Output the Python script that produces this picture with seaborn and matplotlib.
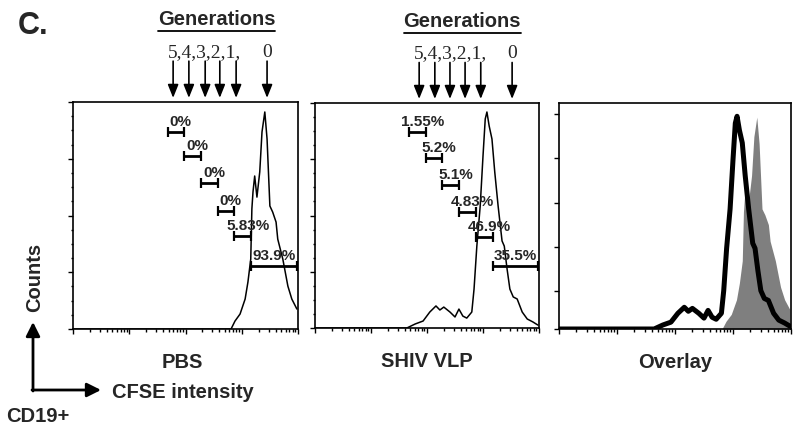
"""
CFSE dilution of CD19+ cells: PBS vs SHIV VLP, plus an overlay panel.
Histograms drawn with seaborn on a log CFSE axis.
"""

import numpy as np
import seaborn as sns
from matplotlib import pyplot as plt
from matplotlib.ticker import AutoMinorLocator, FixedLocator
from matplotlib.transforms import blended_transform_factory

sns.set_style("ticks")
plt.rcParams["font.family"] = ["Liberation Sans", "DejaVu Sans"]
plt.rcParams["font.weight"] = "bold"

# histogram traces, x in log10 CFSE units, y in % of max count
pbs_log = [1.0, 3.81, 3.88, 3.97, 4.06, 4.11, 4.16, 4.18, 4.20, 4.23, 4.27, 4.32,
           4.36, 4.41, 4.45, 4.50, 4.55, 4.61, 4.64, 4.73, 4.82, 4.89, 4.98]
pbs_counts = [0, 0, 3.5, 6.6, 13.2, 20.7, 30.8, 52.9, 60.4, 67.4, 58.1, 69.2,
              86.8, 95.6, 83.7, 54.2, 51.5, 47.1, 39.6, 30.8, 18.9, 13.2, 8.8]

vlp_log = [1.0, 2.64, 2.79, 2.93, 3.05, 3.16, 3.23, 3.30, 3.41, 3.50, 3.57, 3.64,
           3.71, 3.80, 3.84, 3.89, 3.95, 4.00, 4.04, 4.07, 4.11, 4.16, 4.21, 4.27,
           4.34, 4.38, 4.43, 4.48, 4.54, 4.61, 4.70, 4.79, 4.89, 4.98]
vlp_counts = [0, 0, 1.8, 3.1, 7.1, 9.8, 8.0, 9.3, 7.1, 4.9, 8.4, 5.3,
              4.4, 7.1, 17.3, 36.4, 54.2, 76.4, 92.9, 96.0, 89.8, 84.0, 69.3, 54.2,
              38.7, 36.4, 26.2, 17.3, 13.8, 12.9, 7.1, 4.0, 2.7, 1.3]

# generation gates (edges in log10 units) and their percentages
gate_edges = [2.68, 2.98, 3.27, 3.57, 3.87, 4.17, 4.99]
pbs_gate_y = [86.8, 76.2, 64.3, 52.0, 41.0, 27.8]
vlp_gate_y = [87.1, 75.6, 63.6, 51.6, 40.4, 27.6]
pbs_pct = ["0%", "0%", "0%", "0%", "5.83%", "93.9%"]
vlp_pct = ["1.55%", "5.2%", "5.1%", "4.83%", "46.9%", "35.5%"]

# generation arrows (log10 positions) above each panel
pbs_gens = [2.78, 3.06, 3.35, 3.61, 3.90, 4.45]
vlp_gens = [2.86, 3.14, 3.41, 3.68, 3.96, 4.52]

panel_titles = ["PBS", "SHIV VLP", "Overlay"]

fig = plt.figure(figsize=(8, 4.27), dpi=100)

# overlay in pixel coords for the loose labels
ov = fig.add_axes([0, 0, 1, 1])
ov.set_xlim(0, 800)
ov.set_ylim(427, 0)
ov.axis("off")

ax1 = fig.add_axes([73 / 800, 97 / 427, 225 / 800, 227 / 427])
ax2 = fig.add_axes([315 / 800, 98 / 427, 224 / 800, 225 / 427])
ax3 = fig.add_axes([559 / 800, 97 / 427, 232 / 800, 226 / 427])


def style_axis(ax, ymax):
    ax.set_xscale("log")
    ax.set_xlim(10, 1e5)
    ax.set_ylim(0, ymax)
    for s in ax.spines.values():
        s.set_visible(True)
        s.set_linewidth(1.2)
        s.set_color("black")
    ax.tick_params(which="both", direction="out", labelbottom=False, labelleft=False,
                   colors="black", width=1)
    ax.tick_params(which="major", length=3.5)
    ax.tick_params(which="minor", length=1.8)
    ax.set_xlabel("")
    ax.set_ylabel("")


def draw_gates(ax, ys, labels):
    for i, (y, lab) in enumerate(zip(ys, labels)):
        x0, x1 = 10 ** gate_edges[i], 10 ** gate_edges[i + 1]
        ax.plot([x0, x1], [y, y], color="black", lw=2, marker="|", markersize=6.5,
                mew=1.6, solid_capstyle="butt")
        xm = 10 ** ((gate_edges[i] + gate_edges[i + 1]) / 2)
        dx = 0 if i == len(ys) - 1 else 3.5
        ax.annotate(lab, xy=(xm, y), xytext=(dx, 4.8), textcoords="offset points",
                    ha="center", va="baseline", fontsize=11, fontweight="bold",
                    annotation_clip=False)


def draw_header(ax, gens):
    tr = blended_transform_factory(ax.transData, ax.transAxes)
    for g in gens:
        ax.annotate("", xy=(10 ** g, 1.018), xytext=(10 ** g, 1.18), xycoords=tr,
                    textcoords=tr, annotation_clip=False,
                    arrowprops=dict(arrowstyle="-|>,head_length=0.8,head_width=0.32",
                                    mutation_scale=10, lw=1.2, color="black",
                                    shrinkA=0, shrinkB=0))
    ax.annotate("5,4,3,2,1,", xy=(10 ** gens[0], 1.203), xycoords=tr,
                xytext=(-3.6, 0), textcoords="offset points", ha="left", va="baseline",
                fontsize=14, fontweight="normal",
                family=["Liberation Serif", "DejaVu Serif"], annotation_clip=False)
    ax.text(10 ** gens[-1], 1.203, "0", transform=tr, ha="center", va="baseline",
            fontsize=14, fontweight="normal", family=["Liberation Serif", "DejaVu Serif"])
    mid = (gens[0] + gens[-1]) / 2 - 0.06
    ax.text(10 ** mid, 1.344, "Generations", transform=tr, ha="center", va="baseline",
            fontsize=14.5, fontweight="bold")
    ax.plot([10 ** (mid - 1.04), 10 ** (mid + 1.04)], [1.313, 1.313], transform=tr,
            color="black", lw=1.3, clip_on=False)


# PBS panel
sns.lineplot(x=10 ** np.array(pbs_log), y=pbs_counts, ax=ax1, color="black", lw=1.1,
             estimator=None, sort=False)
style_axis(ax1, 100)
ax1.yaxis.set_major_locator(FixedLocator([0, 25, 50, 75, 100]))
ax1.yaxis.set_minor_locator(AutoMinorLocator(4))
draw_gates(ax1, pbs_gate_y, pbs_pct)
draw_header(ax1, pbs_gens)

# SHIV VLP panel
sns.lineplot(x=10 ** np.array(vlp_log), y=vlp_counts, ax=ax2, color="black", lw=1.1,
             estimator=None, sort=False)
style_axis(ax2, 100)
ax2.yaxis.set_major_locator(FixedLocator([0, 25, 50, 75, 100]))
ax2.yaxis.set_minor_locator(AutoMinorLocator(4))
draw_gates(ax2, vlp_gate_y, vlp_pct)
draw_header(ax2, vlp_gens)

# overlay panel: PBS filled grey, VLP thick black
ax3.fill_between(10 ** np.array(pbs_log), pbs_counts, color="#7f7f7f", lw=0, zorder=1)
sns.lineplot(x=10 ** np.array(vlp_log), y=vlp_counts, ax=ax3, color="black", lw=3.6,
             estimator=None, sort=False, zorder=2)
style_axis(ax3, 102)
ax3.yaxis.set_major_locator(FixedLocator([0, 17, 37, 57, 77, 97]))
ax3.yaxis.set_minor_locator(FixedLocator([]))

for ax, title in zip([ax1, ax2, ax3], panel_titles):
    ax.text(0.5 if title != "PBS" else 0.485, -0.167, title, transform=ax.transAxes,
            ha="center", va="baseline", fontsize=14.5, fontweight="bold")

# loose labels and the axis-direction arrow
ov.text(18, 34, "C.", fontsize=22, fontweight="bold", ha="left", va="baseline")
ov.text(35, 277, "Counts", fontsize=14.5, fontweight="bold", rotation=90,
        ha="center", va="center")
arrow_kw = dict(arrowstyle="-|>,head_length=0.6,head_width=0.3", mutation_scale=14,
                lw=2, color="black", shrinkA=0, shrinkB=0)
ov.annotate("", xy=(33, 323), xytext=(33, 392), arrowprops=arrow_kw)
ov.annotate("", xy=(101, 391), xytext=(32, 391), arrowprops=arrow_kw)
ov.text(112, 398, "CFSE intensity", fontsize=14.5, fontweight="bold",
        ha="left", va="baseline")
ov.text(6, 422, "CD19+", fontsize=14.5, fontweight="bold", ha="left", va="baseline")

plt.savefig("out.png", dpi=100)
